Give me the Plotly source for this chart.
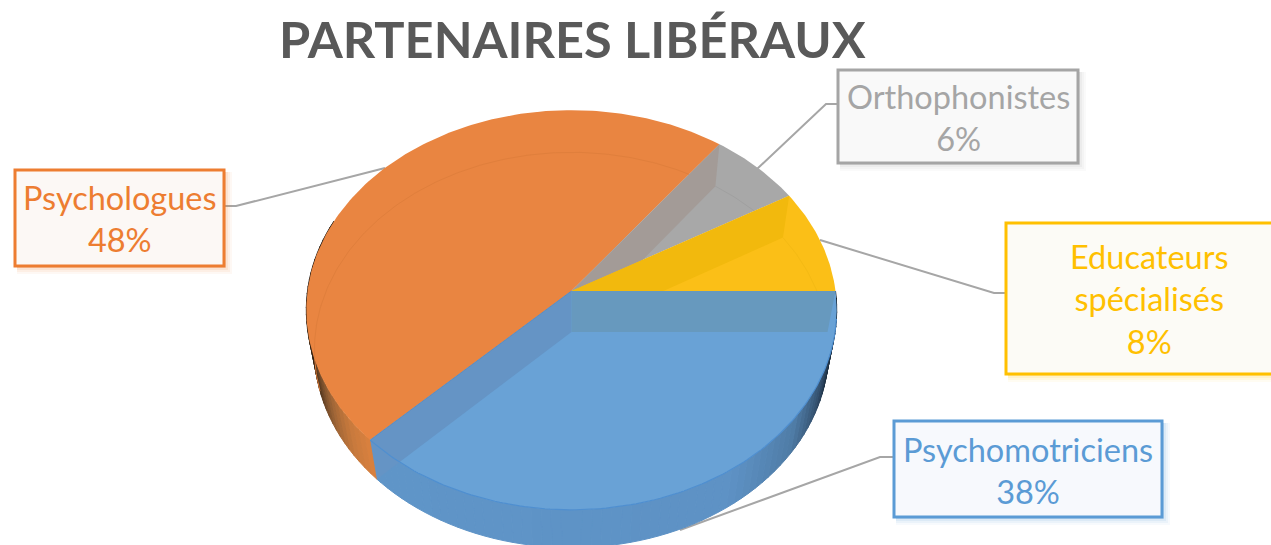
import math
import plotly.graph_objects as go

title = "PARTENAIRES LIBÉRAUX"
categories = ["Psychomotriciens", "Psychologues", "Orthophonistes", "Educateurs<br>spécialisés"]
values = [37.6, 47.7, 6.3, 8.4]
top_colors = ["#69A2D6", "#E98541", "#A8A8A8", "#FBBF17"]
text_colors = ["#5B9BD5", "#ED7D31", "#A5A5A5", "#FFC000"]
box_fills = ["#F7F9FD", "#FCF8F5", "#F9F9F9", "#FCFBF6"]

# Geometry of the perspective disc, in page pixels
CX, CY, RX, RY, K = 571.5, 291.0, 264.0, 198.0, 0.095
BOTTOM_DY, BOTTOM_RX, BOTTOM_RY, BOTTOM_K = 41.0, 256.0, 196.0, 0.091
FONT = "Lato"


def project(t, bottom=False):
    """t: degrees clockwise from east."""
    c, s = math.cos(math.radians(t)), -math.sin(math.radians(t))
    if bottom:
        d = 1 + BOTTOM_K * s
        return (CX + BOTTOM_RX * c / d, CY + BOTTOM_DY - BOTTOM_RY * s / d)
    d = 1 + K * s
    return (CX + RX * c / d, CY - RY * s / d)


def arc(t0, t1, bottom=False, step=1.0):
    n = max(2, int(abs(t1 - t0) / step) + 1)
    return [project(t0 + (t1 - t0) * i / (n - 1), bottom) for i in range(n)]


def hex2rgb(h):
    return tuple(int(h[i:i + 2], 16) for i in (1, 3, 5))


def ramp(stops, t):
    for (a, ca), (b, cb) in zip(stops, stops[1:]):
        if a <= t <= b:
            f = (t - a) / (b - a)
            x, y = hex2rgb(ca), hex2rgb(cb)
            return "rgb(%d,%d,%d)" % tuple(x[i] + (y[i] - x[i]) * f for i in range(3))
    return stops[-1][1]


fig = go.Figure()


def poly(points, fill, line=None, width=0):
    xs = [p[0] for p in points] + [points[0][0]]
    ys = [p[1] for p in points] + [points[0][1]]
    fig.add_trace(go.Scatter(x=xs, y=ys, mode="lines", fill="toself", fillcolor=fill,
                             line=dict(color=line or fill, width=width),
                             hoverinfo="skip", showlegend=False))


def stroke(points, color, width=1.0):
    fig.add_trace(go.Scatter(x=[p[0] for p in points], y=[p[1] for p in points], mode="lines",
                             line=dict(color=color, width=width),
                             hoverinfo="skip", showlegend=False))


# Slice limits from the values, clockwise from east
total = sum(values)
limits = [0.0]
for v in values:
    limits.append(limits[-1] + 360.0 * v / total)
t_blue, t_orange, t_grey, t_yellow = limits[1], limits[2], limits[3], limits[4]

blue_wall = [(0, "#0c1218"), (14, "#182838"), (24, "#34516f"), (36, "#4f7ca6"),
             (55, "#5e92c5"), (140, "#6096c9")]
orange_wall = [(134, "#dc823f"), (142, "#c87a3d"), (150, "#a06637"), (158, "#6a4526"),
               (167, "#3a2818"), (176, "#1e1610"), (200, "#1c1610")]

# Side wall, in short shaded sectors
STEP = 2.0
t = 0.0
while t < 200.0:
    col = ramp(blue_wall, t) if t < t_blue else ramp(orange_wall, t)
    t2 = min(t + STEP, t_blue) if t < t_blue else t + STEP
    poly(arc(t, t2, False, 0.5) + arc(t2, t, True, 0.5), col, col, 1)
    t = t2

apex = (CX, CY)
apex_b = (CX, CY + BOTTOM_DY)

# Orange top
poly([apex] + arc(t_blue, t_orange), top_colors[1])
stroke(arc(163, t_orange, True), "#E07F3C", 1)

# Grey top and its cut face
poly([apex] + arc(t_orange, t_grey), top_colors[2])
poly([apex, project(t_orange), project(t_orange, True), apex_b], "#A39B97")
stroke(arc(t_orange, t_grey, True), "#A0A0A0", 1)

# Yellow top and its cut face
poly([apex] + arc(t_grey, t_yellow), top_colors[3])
poly([apex, project(t_grey), project(t_grey, True), apex_b], "#F2B90D")
stroke(arc(t_grey, t_yellow, True), "#F4BA14", 1)

# Blue top and its cut faces
poly([apex] + arc(0, t_blue), top_colors[0])
poly([apex, project(t_blue), project(t_blue, True), apex_b], "#6594C5")
poly([apex, project(0), project(0, True), apex_b], "#6799BE")
stroke(arc(8, t_blue), "#4F8FD0", 1.2)
stroke([apex, project(t_blue)], "#5E8CBE", 1)

# Value labels
label_boxes = [
    (894, 421, 1162, 517, 1028, 470),
    (15, 170, 224, 266, 120, 218.5),
    (838, 70, 1078, 163, 958, 117.5),
    (1006, 223, 1290, 374, 1149, 299),
]
leaders = [
    [(680, 530), (880, 457), (894, 457)],
    [(385, 168), (236, 206), (224, 206)],
    [(757, 169), (826, 104), (838, 104)],
    [(820, 240), (994, 293), (1006, 293)],
]

shapes = []
for pts in leaders:
    path = "M " + " L ".join(f"{x},{y}" for x, y in pts)
    shapes.append(dict(type="path", path=path, layer="below",
                       line=dict(color="#A6A6A6", width=2)))

annotations = [dict(text=f"<b>{title}</b>", x=572, y=38, xref="x", yref="y",
                    showarrow=False, xanchor="center", yanchor="middle",
                    font=dict(family=FONT, size=50.5, color="#595959"))]

for i, (x0, y0, x1, y1, tx, ty) in enumerate(label_boxes):
    for off, op in ((8, 0.05), (6, 0.07), (4, 0.10), (2, 0.14)):
        shapes.append(dict(type="rect", x0=x0 + 2, y0=y0 + 2, x1=x1 + off, y1=y1 + off,
                           fillcolor=text_colors[i], opacity=op, line=dict(width=0), layer="below"))
    shapes.append(dict(type="rect", x0=x0, y0=y0, x1=x1, y1=y1, fillcolor=box_fills[i],
                       line=dict(color=text_colors[i], width=3), layer="below"))
    annotations.append(dict(text=f"{categories[i]}<br>{round(values[i])}%", x=tx, y=ty,
                            xref="x", yref="y", showarrow=False,
                            xanchor="center", yanchor="middle", align="center",
                            font=dict(family=FONT, size=32.5, color=text_colors[i])))

fig.update_layout(
    width=1271, height=545, margin=dict(l=0, r=0, t=0, b=0),
    paper_bgcolor="white", plot_bgcolor="white", showlegend=False,
    xaxis=dict(range=[0, 1271], visible=False, fixedrange=True),
    yaxis=dict(range=[545, 0], visible=False, fixedrange=True),
    shapes=shapes, annotations=annotations,
)

fig.write_html("out.html", config=dict(displayModeBar=False),
               post_script="document.body.style.margin='0';document.body.style.overflow='hidden';")
